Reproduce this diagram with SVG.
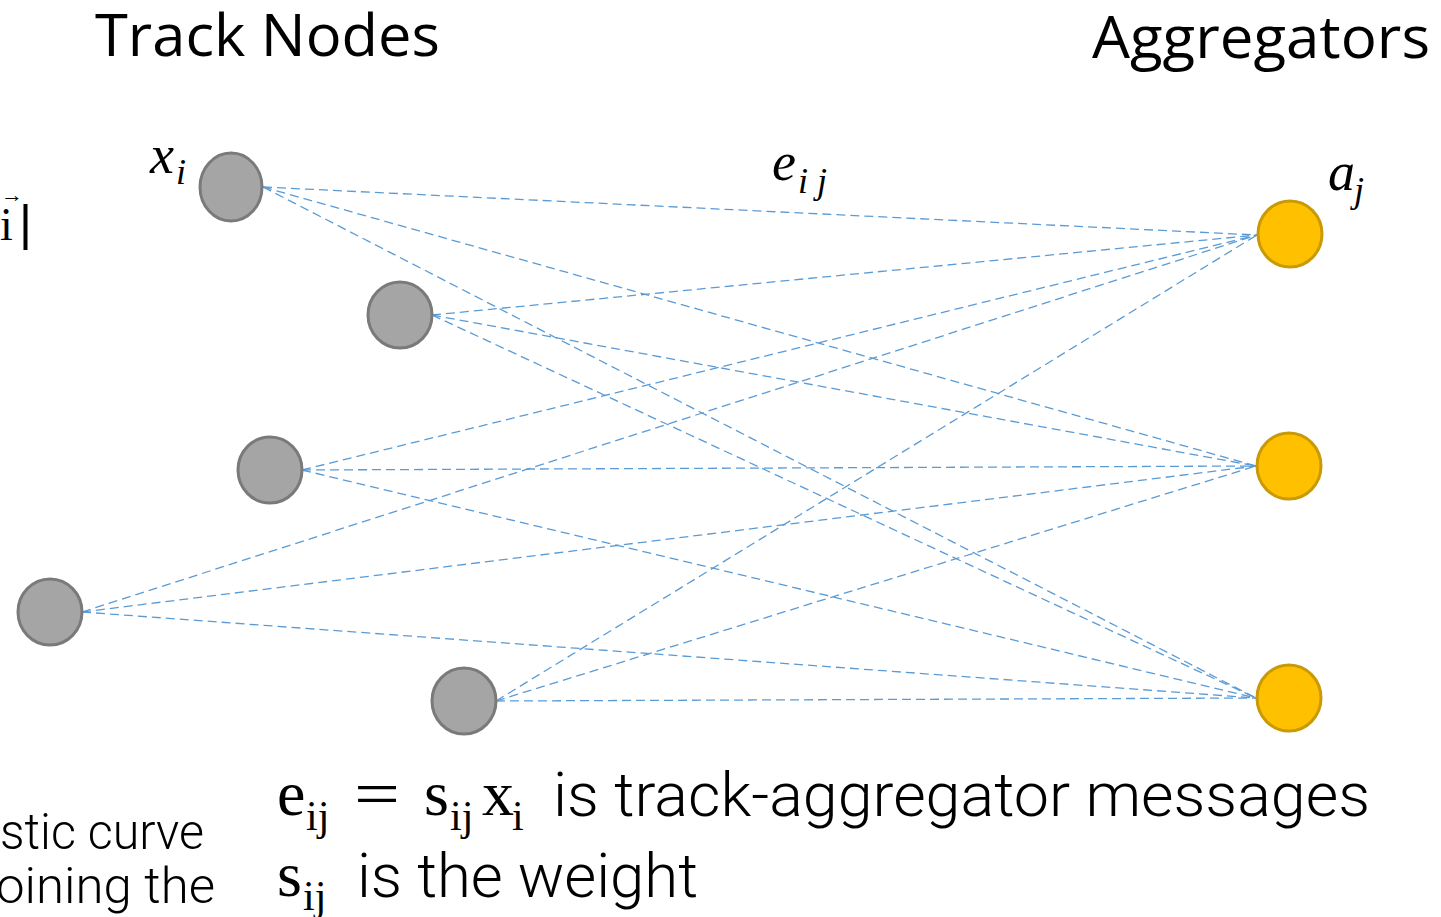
<svg xmlns="http://www.w3.org/2000/svg" width="1441" height="917" viewBox="0 0 1441 917">
<style>
.title{font-family:"Open Sans","Liberation Sans",sans-serif;font-size:59px;fill:#000}
.track{fill:#A5A5A5;stroke:#7A7A7A;stroke-width:3}
.agg{fill:#FFC000;stroke:#C99A06;stroke-width:3}
.edge{stroke:#5B9BD5;stroke-width:1.3;stroke-dasharray:9 5;fill:none}
.mi{font-family:"Liberation Serif","DejaVu Serif",serif;font-style:italic;fill:#000}
.mr{font-family:"Liberation Serif","DejaVu Serif",serif;fill:#000}
.body{font-family:Roboto,"Liberation Sans",Arial,sans-serif;font-weight:300;fill:#000}
</style>
<rect width="1441" height="917" fill="#fff"/>
<text class="title" x="95" y="56" textLength="345" lengthAdjust="spacingAndGlyphs">Track Nodes</text>
<text class="title" x="1092" y="58" textLength="338" lengthAdjust="spacingAndGlyphs">Aggregators</text>

<g id="fragment-left-top">
<text class="mr"><tspan x="1" y="202" font-size="22">→</tspan><tspan x="0" y="240" font-size="46">i</tspan><tspan x="19" y="240" font-size="50" font-family="Liberation Sans, sans-serif">|</tspan></text>
</g>

<g id="connectors">
<line class="edge" x1="263" y1="187" x2="1257" y2="235"/>
<line class="edge" x1="263" y1="187" x2="1256" y2="466"/>
<line class="edge" x1="263" y1="187" x2="1256" y2="698"/>
<line class="edge" x1="432" y1="315" x2="1257" y2="235"/>
<line class="edge" x1="432" y1="315" x2="1256" y2="466"/>
<line class="edge" x1="432" y1="315" x2="1256" y2="698"/>
<line class="edge" x1="302" y1="470" x2="1257" y2="235"/>
<line class="edge" x1="302" y1="470" x2="1256" y2="466"/>
<line class="edge" x1="302" y1="470" x2="1256" y2="698"/>
<line class="edge" x1="82" y1="612" x2="1257" y2="235"/>
<line class="edge" x1="82" y1="612" x2="1256" y2="466"/>
<line class="edge" x1="82" y1="612" x2="1256" y2="698"/>
<line class="edge" x1="496" y1="701" x2="1257" y2="235"/>
<line class="edge" x1="496" y1="701" x2="1256" y2="466"/>
<line class="edge" x1="496" y1="701" x2="1256" y2="698"/>
</g>

<g id="track1"><ellipse class="track" cx="231" cy="187" rx="31" ry="34"/></g>
<g id="track2"><ellipse class="track" cx="400" cy="315" rx="32" ry="33"/></g>
<g id="track3"><ellipse class="track" cx="270" cy="470" rx="32" ry="33"/></g>
<g id="track4"><ellipse class="track" cx="50" cy="612" rx="32" ry="33"/></g>
<g id="track5"><ellipse class="track" cx="464" cy="701" rx="32" ry="33"/></g>

<g id="agg1"><ellipse class="agg" cx="1290" cy="234" rx="32" ry="33"/></g>
<g id="agg2"><ellipse class="agg" cx="1289" cy="466" rx="32" ry="33"/></g>
<g id="agg3"><ellipse class="agg" cx="1289" cy="698" rx="32" ry="33"/></g>

<g id="label-xi">
<text class="mi"><tspan x="150" y="173" font-size="54">x</tspan><tspan x="176" y="184" font-size="36">i</tspan></text>
</g>
<g id="label-eij">
<text class="mi"><tspan x="772" y="180" font-size="54">e</tspan><tspan x="798" y="193" font-size="36">i j</tspan></text>
</g>
<g id="label-aj">
<text class="mi"><tspan x="1328" y="190" font-size="54">a</tspan><tspan x="1354" y="202" font-size="36">j</tspan></text>
</g>

<g id="caption">
<text class="mr" x="277" y="815" font-size="64">e</text>
<text class="mr" x="306" y="830" font-size="42">ij</text>
<text class="mr" x="354" y="815" font-size="64" textLength="46" lengthAdjust="spacingAndGlyphs">=</text>
<text class="mr" x="424" y="815" font-size="64">s</text>
<text class="mr" x="450" y="830" font-size="42">ij</text>
<text class="mr" x="482" y="815" font-size="64">x</text>
<text class="mr" x="512" y="830" font-size="42">i</text>
<text class="body" x="553" y="816" font-size="62" textLength="817" lengthAdjust="spacingAndGlyphs">is track-aggregator messages</text>
<text class="mr" x="277" y="896" font-size="64">s</text>
<text class="mr" x="303" y="910" font-size="42">ij</text>
<text class="body" x="357" y="897" font-size="62" textLength="341" lengthAdjust="spacingAndGlyphs">is the weight</text>
</g>

<g id="fragment-left-bottom">
<text class="body" x="0" y="849" font-size="50" textLength="204" lengthAdjust="spacingAndGlyphs">stic curve</text>
<text class="body" x="-4" y="903" font-size="50" textLength="219" lengthAdjust="spacingAndGlyphs">oining the</text>
</g>
</svg>
